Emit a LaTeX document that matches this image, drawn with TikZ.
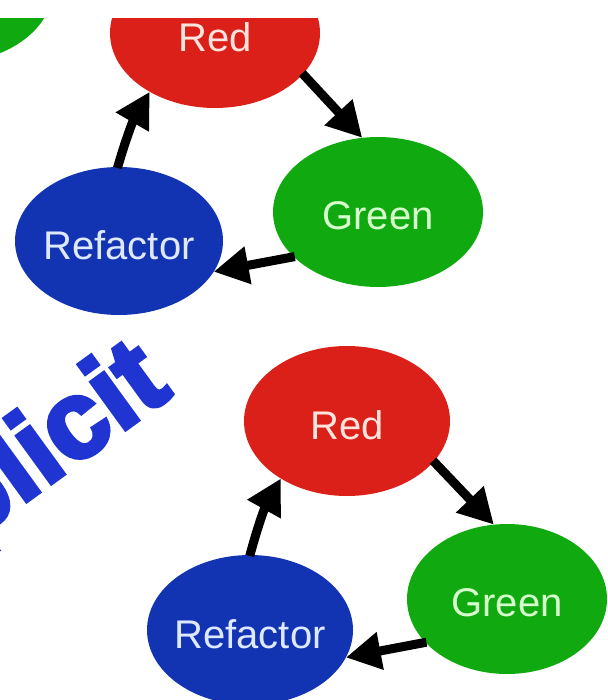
\documentclass[tikz,border=0pt]{standalone}
\usepackage{fontspec}
\setmainfont{Liberation Sans}
\newfontfamily\heavyfont[UprightFont={* Bold},FakeBold=4]{Liberation Sans}
\usetikzlibrary{shapes.geometric,arrows.meta}

\definecolor{tddred}{RGB}{218,32,24}
\definecolor{tddgreen}{RGB}{16,170,16}
\definecolor{tddblue}{RGB}{18,52,178}
\definecolor{onred}{RGB}{255,228,222}
\definecolor{ongreen}{RGB}{215,255,205}
\definecolor{onblue}{RGB}{222,232,255}
\definecolor{wordblue}{RGB}{32,52,210}

\tikzset{
  phase/.style={ellipse, inner sep=0pt, outer sep=0pt,
    minimum width=210pt, minimum height=150pt},
  redphase/.style={phase, fill=tddred},
  greenphase/.style={phase, fill=tddgreen},
  bluephase/.style={phase, fill=tddblue},
  lbl/.style={font=\fontsize{40}{40}\selectfont, inner sep=0pt, yshift=-4pt},
  cyclearrow/.style={line width=9pt, draw=black,
    -{Triangle[length=35pt,width=36pt]}, shorten <=-1pt},
}

\begin{document}
\begin{tikzpicture}[x=1pt,y=-1pt]
\useasboundingbox (0,0) rectangle (607,700);
\clip (0,19) rectangle (607,700);

% leftover of a neighbouring cycle
\node[greenphase] (g0) at (-52,-12) {};

% upper cycle
\node[redphase]   (r1) at (215,33)  [label={[lbl,text=onred]center:Red}] {};
\node[greenphase] (g1) at (378,212) [label={[lbl,text=ongreen]center:Green}] {};
\node[bluephase, minimum width=208pt, minimum height=148pt]
                  (b1) at (119,241) [label={[lbl,text=onblue]center:Refactor}] {};

\draw[cyclearrow] (r1.-25)  -- (g1.102);
\draw[cyclearrow] (g1.208)  -- (b1.-18);
\draw[cyclearrow] (b1.91)   to[bend left=7] (r1.222);

% slanted word
\node[font=\heavyfont\fontsize{110}{110}\selectfont, text=wordblue,
      inner sep=0pt, anchor=base east, rotate=36, xscale=1.0]
      (word) at (174,394) {Explicit};

% lower cycle
\node[redphase, minimum width=206pt]   (r2) at (347,421) [label={[lbl,text=onred]center:Red}] {};
\node[greenphase, minimum width=200pt] (g2) at (507,599) [label={[lbl,text=ongreen]center:Green}] {};
\node[bluephase, minimum width=206pt]  (b2) at (250,630) [label={[lbl,text=onblue]center:Refactor}] {};

\draw[cyclearrow] (r2.-25)  -- (g2.100);
\draw[cyclearrow] (g2.208)  -- (b2.-16);
\draw[cyclearrow] (b2.90)   to[bend left=7] (r2.221);
\end{tikzpicture}
\end{document}
